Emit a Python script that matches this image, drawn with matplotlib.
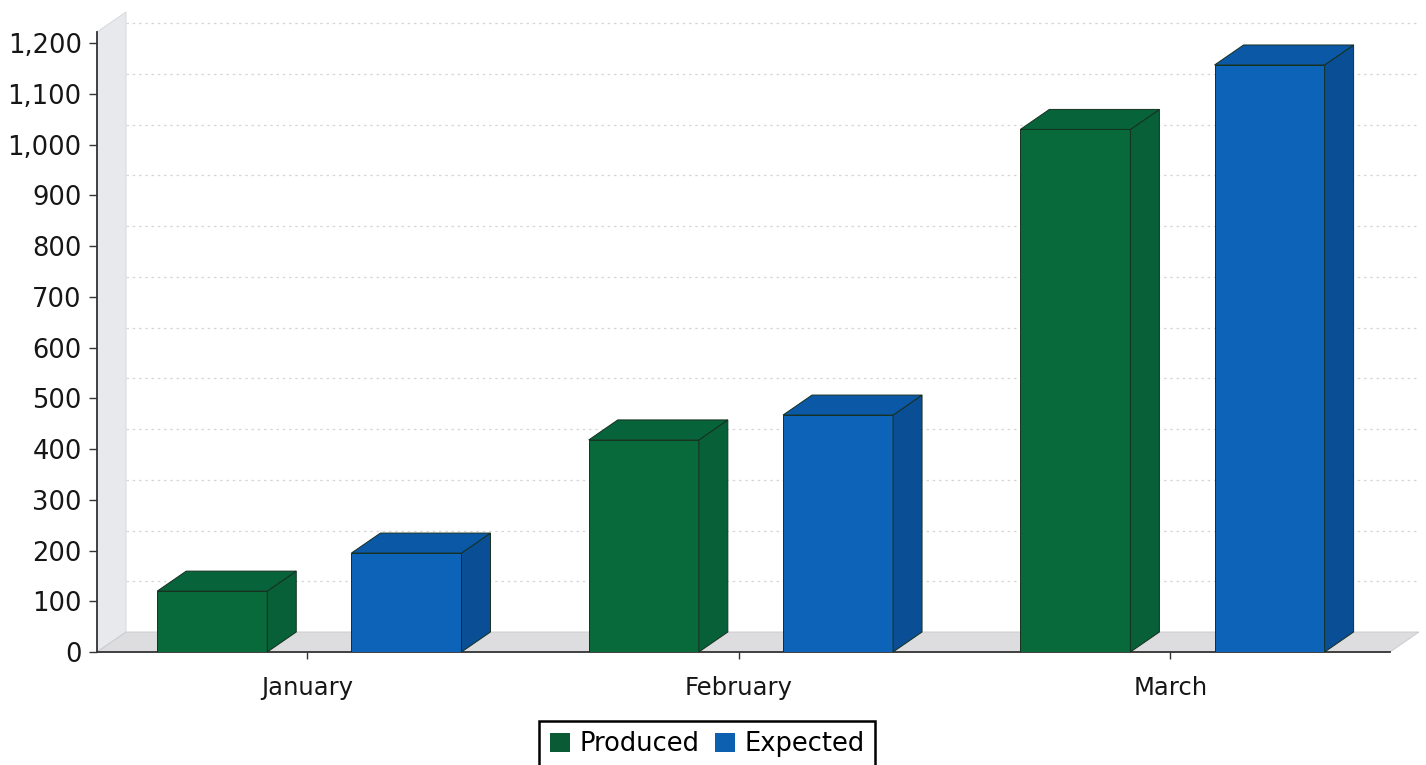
import matplotlib
matplotlib.use("Agg")
import matplotlib.pyplot as plt
from matplotlib.patches import Polygon, Patch
from matplotlib.ticker import FuncFormatter, MultipleLocator

# Datos
months = ["January", "February", "March"]
produced = [120, 418, 1030]
expected = [195, 467, 1157]

series = [("Produced", produced, "#086a3a", "#07633a", "#076037"),
          ("Expected", expected, "#0d63b8", "#0b58a6", "#0a4e96")]
legend_colors = ["#0b5a36", "#0d5fb0"]

# Geometria (pixeles de la figura)
W, H = 1426, 765
AX_L, AX_R, AX_T, AX_B = 97, 1390, 32, 652
DX_PX, DY_PX = 29, 20
XMIN, XMAX = -0.487, 2.509
YMAX = 1222
BAR_W = 0.255
OFFS = [-0.22, 0.23]

fig = plt.figure(figsize=(W / 100, H / 100), dpi=100)
ax = fig.add_axes([AX_L / W, (H - AX_B) / H, (AX_R - AX_L) / W, (AX_B - AX_T) / H])
ax.set_xlim(XMIN, XMAX)
ax.set_ylim(0, YMAX)

dx = DX_PX * (XMAX - XMIN) / (AX_R - AX_L)
dy = DY_PX * YMAX / (AX_B - AX_T)

# pared y piso
wall = Polygon([(XMIN, 0), (XMIN + dx, dy), (XMIN + dx, YMAX + dy), (XMIN, YMAX)],
               closed=True, facecolor="#e8e9ed", edgecolor="#d4d4d8", lw=0.6,
               clip_on=False, zorder=0)
floor = Polygon([(XMIN, 0), (XMIN + dx, dy), (XMAX + dx, dy), (XMAX, 0)],
                closed=True, facecolor="#dddde0", edgecolor="#c8c8cc", lw=0.6,
                clip_on=False, zorder=0)
ax.add_patch(wall)
ax.add_patch(floor)

# lineas de grilla en el plano de fondo
for v in range(100, 1300, 100):
    ax.plot([XMIN + dx, XMAX + dx], [v + dy, v + dy], color="#d6d6d6", lw=0.9,
            ls=(0, (2, 3)), clip_on=False, zorder=0.5)

# barras 3D
for (name, vals, c_front, c_top, c_side), off in zip(series, OFFS):
    xs = [i + off for i in range(len(months))]
    ax.bar(xs, vals, width=BAR_W, color=c_front, edgecolor="#15301f", lw=0.7,
           zorder=3)
    for x, h in zip(xs, vals):
        x0, x1 = x - BAR_W / 2, x + BAR_W / 2
        top = Polygon([(x0, h), (x0 + dx, h + dy), (x1 + dx, h + dy), (x1, h)],
                      closed=True, facecolor=c_top, edgecolor="#15301f", lw=0.7,
                      clip_on=False, zorder=3)
        side = Polygon([(x1, 0), (x1 + dx, dy), (x1 + dx, h + dy), (x1, h)],
                       closed=True, facecolor=c_side, edgecolor="#15301f", lw=0.7,
                       clip_on=False, zorder=3)
        ax.add_patch(side)
        ax.add_patch(top)

# ejes
for s in ["top", "right"]:
    ax.spines[s].set_visible(False)
ax.spines["left"].set_color("#333333")
ax.spines["bottom"].set_color("#333333")
ax.spines["left"].set_linewidth(1.3)
ax.spines["bottom"].set_linewidth(1.3)
ax.set_facecolor("none")

ax.yaxis.set_major_locator(MultipleLocator(100))
ax.yaxis.set_major_formatter(FuncFormatter(lambda v, p: f"{int(v):,}"))
ax.tick_params(axis="y", labelsize=18.5, length=6, width=1, colors="#333333",
               labelcolor="#161616", pad=5)
ax.set_xticks(range(len(months)))
ax.set_xticklabels(months)
ax.tick_params(axis="x", labelsize=17.5, length=5, width=1, colors="#333333",
               labelcolor="#161616", pad=12)

handles = [Patch(facecolor=c, edgecolor="none", label=s[0])
           for s, c in zip(series, legend_colors)]
leg = fig.legend(handles=handles, loc="upper center",
                 bbox_to_anchor=(707 / W, (H - 721) / H), borderaxespad=0,
                 ncol=2, fontsize=18.5, frameon=True, fancybox=False,
                 edgecolor="black", framealpha=1, handlelength=0.8,
                 handleheight=0.8, handletextpad=0.35, columnspacing=0.6,
                 borderpad=0.4)
leg.get_frame().set_linewidth(1.8)

plt.savefig("out.png", dpi=100)
